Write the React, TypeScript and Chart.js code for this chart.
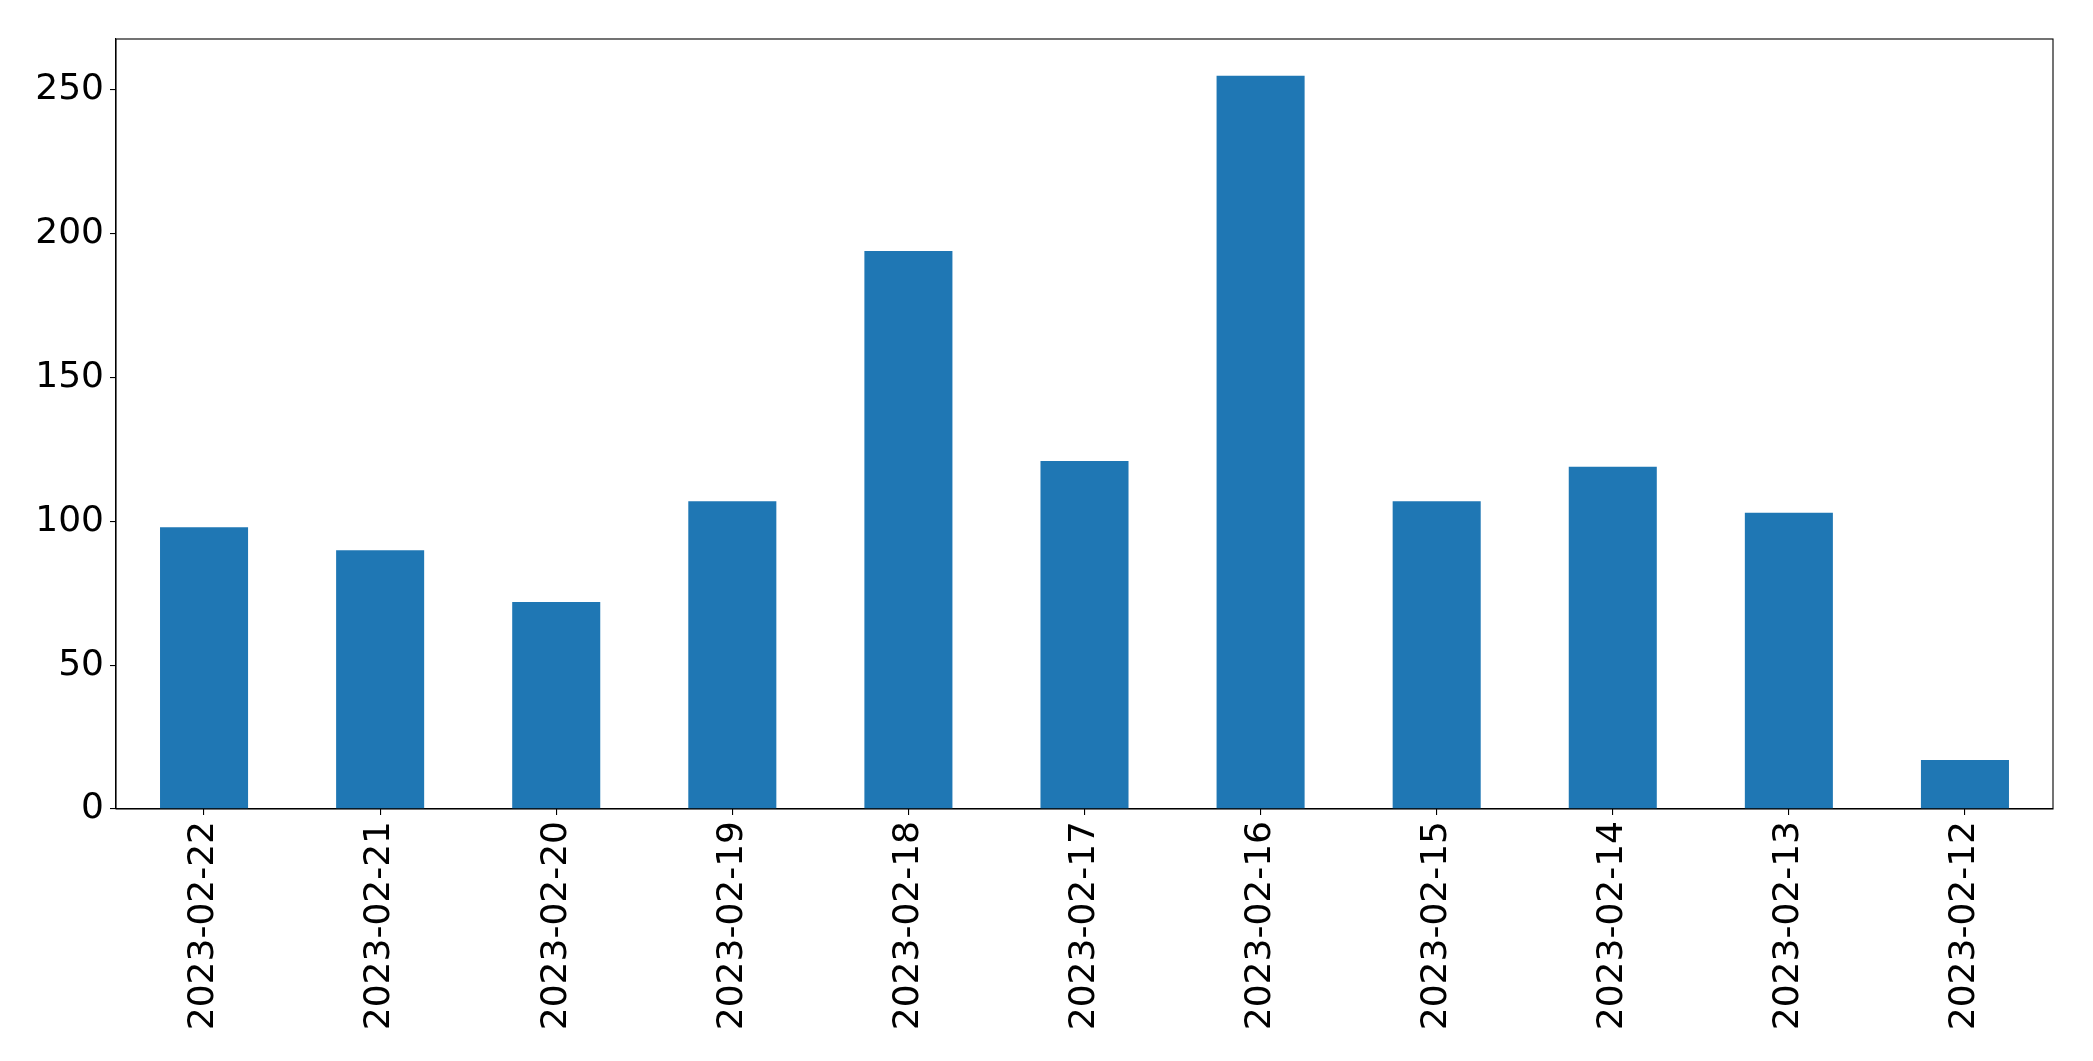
import React, { useEffect, useRef } from "react";
import { Chart, registerables } from "chart.js";

Chart.register(...registerables);

const categories = [
  "2023-02-22", "2023-02-21", "2023-02-20", "2023-02-19", "2023-02-18", "2023-02-17",
  "2023-02-16", "2023-02-15", "2023-02-14", "2023-02-13", "2023-02-12",
];
const values = [98, 90, 72, 107, 194, 121, 255, 107, 119, 103, 17];
const yTicks = [0, 50, 100, 150, 200, 250];

const FONT = "'DejaVu Sans', sans-serif";

const framePlugin = {
  id: "frame",
  afterDraw(chart: any) {
    const { ctx, chartArea } = chart;
    ctx.save();
    ctx.strokeStyle = "#000";
    ctx.lineWidth = 1.1;
    ctx.strokeRect(chartArea.left, chartArea.top, chartArea.right - chartArea.left, chartArea.bottom - chartArea.top);
    ctx.restore();
  },
};

export default function App() {
  const ref = useRef<HTMLCanvasElement>(null);
  useEffect(() => {
    if (!ref.current) return;
    const chart = new Chart(ref.current, {
      type: "bar",
      data: {
        labels: categories,
        datasets: [
          {
            data: values,
            backgroundColor: "#1f77b4",
            borderWidth: 0,
            categoryPercentage: 1,
            barPercentage: 0.5,
          },
        ],
      },
      options: {
        animation: false,
        responsive: false,
        maintainAspectRatio: false,
        layout: { padding: { top: 39, right: 40, left: 0, bottom: 0 } },
        plugins: { legend: { display: false }, tooltip: { enabled: false } },
        scales: {
          x: {
            offset: true,
            grid: { display: true, drawOnChartArea: false, drawTicks: true, tickLength: 6, color: "#000", lineWidth: 1.1, offset: false },
            border: { display: true, color: "#000", width: 1.1 },
            ticks: {
              color: "#000",
              font: { family: FONT, size: 36 },
              minRotation: 90,
              maxRotation: 90,
              autoSkip: false,
              padding: 6,
            },
            afterFit(scale: any) {
              scale.height = 252;
            },
          },
          y: {
            min: 0,
            max: 267.75,
            afterBuildTicks(scale: any) {
              scale.ticks = yTicks.map((v) => ({ value: v }));
            },
            grid: { display: true, drawOnChartArea: false, drawTicks: true, tickLength: 6, color: "#000", lineWidth: 1.1 },
            border: { display: true, color: "#000", width: 1.1 },
            ticks: {
              color: "#000",
              font: { family: FONT, size: 36 },
              padding: 6,
            },
            afterFit(scale: any) {
              scale.width = 116;
            },
          },
        },
      },
      plugins: [framePlugin],
    });
    return () => chart.destroy();
  }, []);
  return (
    <div style={{ position: "fixed", left: 0, top: 0, width: 2093, height: 1061, background: "#fff" }}>
      <canvas ref={ref} width={2093} height={1061} style={{ display: "block" }} />
    </div>
  );
}
